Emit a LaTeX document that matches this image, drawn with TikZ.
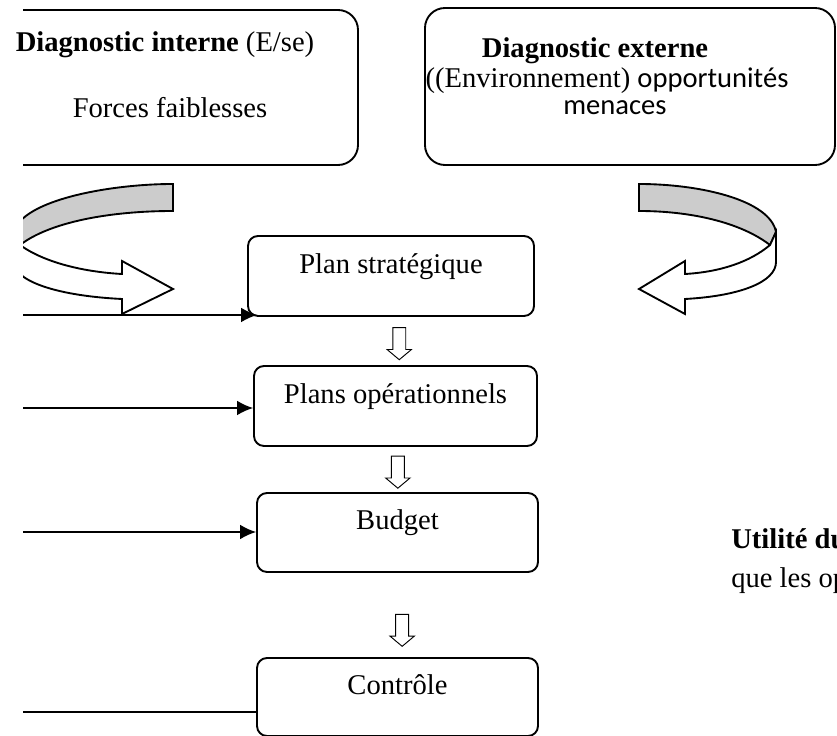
\documentclass[tikz,border=0pt]{standalone}
\usepackage{fontspec}
\setmainfont{Liberation Serif}
\newfontfamily\calib{Carlito}
\usepackage{tikz}
\usetikzlibrary{arrows.meta, positioning, shapes.arrows, calc}
\definecolor{foldgray}{RGB}{204, 204, 204}

\begin{document}
\begin{tikzpicture}[font=\fontsize{12.2}{14}\selectfont,
  stagebox/.style={draw, thick, rounded corners=0.15cm, minimum height=1.2cm, text height=0.35cm, text depth=0.43cm},
  diagbox/.style={draw, thick, rounded corners=0.3cm},
  downarrow/.style={single arrow, draw, thin, fill=white, shape border rotate=270, minimum width=0.35cm, minimum height=0.48cm, single arrow head extend=0.085cm, single arrow tip angle=100, inner sep=0.09cm},
  feed/.style={semithick, -{Latex[length=0.24cm, width=0.22cm]}}]
  \useasboundingbox (0,0) rectangle (12.555,11.025);

  \begin{scope}
    \clip (0.345,0) rectangle (12.555,11.025);
    \node[diagbox, minimum width=5.87cm, minimum height=2.325cm] (interne) at (2.435,9.7125) {};
    \draw[thick, fill=foldgray] (2.595,8.265) .. controls (1.65,8.265) and (0.33,8.025) .. (0.21,7.545)
      -- (0.3,7.35) .. controls (0.75,7.695) and (1.65,7.86) .. (2.595,7.86) -- cycle;
    \draw[thick, fill=white] (0.3,7.35) .. controls (0.675,7.08) and (1.275,6.945) .. (1.83,6.915)
      -- (1.83,7.11) -- (2.595,6.69) -- (1.83,6.315) -- (1.83,6.54)
      .. controls (0.9,6.585) and (0.21,6.795) .. (0.21,7.095) -- (0.21,7.545) -- cycle;
  \end{scope}
  \node[anchor=base] (titreint) at (2.475,10.245) {\textbf{Diagnostic interne} (E/se)};
  \node[anchor=base] (forces) at (2.55,9.255) {Forces faiblesses};

  \node[diagbox, minimum width=6.15cm, minimum height=2.355cm] (externe) at (9.45,9.7275) {};
  \node[anchor=base] (titreext) at (8.925,10.155) {\textbf{Diagnostic externe}};
  \node[anchor=base] (opport) at (9.105,9.705) {((Environnement) {\calib opportunités}};
  \node[anchor=base] (menaces) at (9.225,9.3) {\calib menaces};

  \draw[thick, fill=foldgray] (9.585,8.265) .. controls (10.5,8.265) and (11.55,8.025) .. (11.64,7.545)
    -- (11.55,7.35) .. controls (11.1,7.695) and (10.35,7.86) .. (9.585,7.86) -- cycle;
  \draw[thick, fill=white] (11.55,7.35) .. controls (11.25,7.095) and (10.8,6.945) .. (10.275,6.915)
    -- (10.275,7.11) -- (9.585,6.69) -- (10.275,6.315) -- (10.275,6.54)
    .. controls (11.1,6.585) and (11.64,6.795) .. (11.64,7.095) -- (11.64,7.545) -- cycle;

  \node[stagebox, minimum width=4.29cm] (plan) at (5.865,6.885) {Plan stratégique};
  \node[stagebox, minimum width=4.245cm] (ops) at (5.9325,4.935) {Plans opérationnels};
  \node[stagebox, minimum width=4.215cm, minimum height=1.185cm] (budget) at (5.9625,3.0375) {Budget};
  \node[stagebox, minimum width=4.215cm, minimum height=1.17cm] (ctrl) at (5.9625,0.57) {Contrôle};

  \node[downarrow] (fl1) at ($(plan.south)!0.5!(ops.north)+(0.09,0)$) {};
  \node[downarrow] (fl2) at ($(ops.south)!0.5!(budget.north)+(0.02,0)$) {};
  \node[downarrow] (fl3) at ($(budget.south)!0.65!(ctrl.north)+(0.07,0)$) {};

  \coordinate (in1) at (0.345,6.3);
  \coordinate (in2) at (0.345,4.905);
  \coordinate (in3) at (0.345,3.045);
  \coordinate (in4) at (0.345,0.345);
  \draw[feed] (in1) -- ($(in1 -| plan.west)+(0.15,0)$);
  \draw[feed] (in2) -- (in2 -| ops.west);
  \draw[feed] (in3) -- (in3 -| budget.west);
  \draw[semithick] (in4) -- (in4 -| ctrl.west);

  \node[anchor=base west, font=\fontsize{12.2}{14}\selectfont\bfseries] (utilite) at (10.845,2.79) {Utilité du};
  \node[anchor=base west] (suite) at (10.845,2.205) {que les op};
\end{tikzpicture}
\end{document}
